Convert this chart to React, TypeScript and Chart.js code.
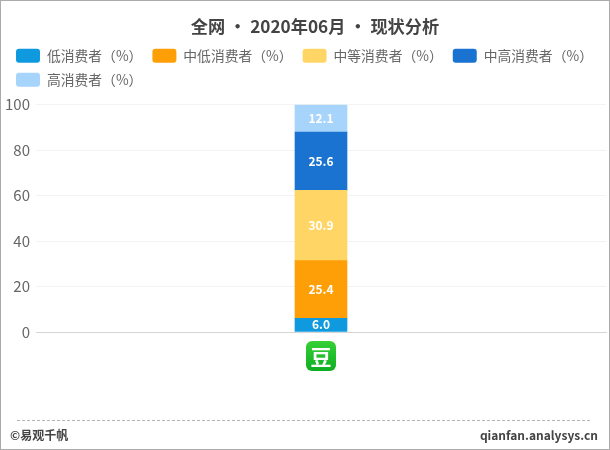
import React, { useEffect, useRef } from "react";
import { Chart, registerables } from "chart.js";

Chart.register(...registerables);

const titleText = "全网 • 2020年06月 • 现状分析";
const categories = ["豆瓣"];
const seriesNames = ["低消费者（%）", "中低消费者（%）", "中等消费者（%）", "中高消费者（%）", "高消费者（%）"];
const lowValues = [6.0];
const midLowValues = [25.4];
const midValues = [30.9];
const midHighValues = [25.6];
const highValues = [12.1];
const seriesColors = ["#0f9ae0", "#ff9f08", "#ffd666", "#1a73d1", "#a6d4fa"];
const iconGlyph = "豆";
const footerLeft = "©易观千帆";
const footerRight = "qianfan.analysys.cn";

const FONT = '"Noto Sans CJK SC", "Noto Sans", sans-serif';

const overlay = {
  id: "overlay",
  beforeLayout(chart: any) {
    const legend = chart.legend;
    if (legend && !legend.__wrapped) {
      const fit = legend.fit;
      legend.fit = function (this: any) {
        fit.call(this);
        this.height += 8;
      };
      legend.__wrapped = true;
    }
  },
  afterLayout(chart: any) {
    chart.titleBlock.left += 18;
  },
  beforeDraw(chart: any) {
    const { ctx, width, height } = chart;
    ctx.save();
    ctx.fillStyle = "#ffffff";
    ctx.fillRect(0, 0, width, height);
    ctx.strokeStyle = "#ababab";
    ctx.lineWidth = 2;
    ctx.strokeRect(0, 0, width, height);
    ctx.restore();
  },
  afterDatasetsDraw(chart: any) {
    const { ctx } = chart;
    ctx.save();
    ctx.textAlign = "center";
    ctx.textBaseline = "middle";
    ctx.fillStyle = "#ffffff";
    chart.data.datasets.forEach((ds: any, i: number) => {
      const bar = chart.getDatasetMeta(i).data[0];
      const center = bar.getCenterPoint();
      ctx.font = `bold 12px ${FONT}`;
      ctx.fillText(Number(ds.data[0]).toFixed(1), center.x, center.y);
    });
    const x = chart.scales.x.getPixelForValue(0);
    const size = 30;
    const top = 341;
    ctx.beginPath();
    ctx.roundRect(x - size / 2, top, size, size, 6);
    const gradient = ctx.createLinearGradient(0, top, 0, top + size);
    gradient.addColorStop(0, "#36d036");
    gradient.addColorStop(1, "#0fae22");
    ctx.fillStyle = gradient;
    ctx.fill();
    ctx.fillStyle = "#ffffff";
    ctx.font = `bold 21px ${FONT}`;
    ctx.fillText(iconGlyph, x, top + size / 2 + 1);

    ctx.strokeStyle = "#b5b5b5";
    ctx.lineWidth = 1;
    ctx.setLineDash([3, 2]);
    ctx.beginPath();
    ctx.moveTo(17, 420.5);
    ctx.lineTo(590, 420.5);
    ctx.stroke();
    ctx.setLineDash([]);
    ctx.fillStyle = "#444444";
    ctx.textAlign = "left";
    ctx.font = `bold 12px ${FONT}`;
    ctx.fillText(footerLeft, 10, 435);
    ctx.textAlign = "right";
    ctx.font = `bold 12px ${FONT}`;
    ctx.fillText(footerRight, 598, 435);
    ctx.restore();
  },
};

export default function App() {
  const ref = useRef<HTMLCanvasElement>(null);
  useEffect(() => {
    const values = [lowValues, midLowValues, midValues, midHighValues, highValues];
    const chart = new Chart(ref.current!, {
      type: "bar",
      data: {
        labels: categories,
        datasets: seriesNames.map((label, i) => ({
          label,
          data: values[i],
          backgroundColor: seriesColors[i],
          barThickness: 52,
          stack: "s",
        })),
      },
      options: {
        responsive: false,
        animation: false,
        devicePixelRatio: 1,
        layout: { padding: { left: 6, right: 4, bottom: 118, top: 0 } },
        plugins: {
          title: {
            display: true,
            text: titleText,
            color: "#444444",
            font: { size: 17.2, weight: "bold", family: FONT },
            padding: { top: 16, bottom: 2 },
          },
          legend: {
            display: true,
            align: "start",
            labels: {
              boxWidth: 24,
              boxHeight: 14,
              color: "#666666",
              padding: 10,
              font: { size: 13.8, family: FONT },
              useBorderRadius: true,
              borderRadius: 3,
            },
          },
          tooltip: { enabled: false },
        },
        scales: {
          x: {
            stacked: true,
            ticks: { display: false },
            grid: { display: false, drawTicks: false },
            border: { color: "#d5d5d5" },
          },
          y: {
            stacked: true,
            min: 0,
            max: 100,
            ticks: {
              stepSize: 20,
              color: "#666666",
              padding: 6,
              font: { size: 15, family: FONT },
            },
            grid: { color: "#f3f3f3", drawTicks: false },
            border: { display: false },
            afterFit(scale: any) {
              scale.width = 30;
            },
          },
        },
      },
      plugins: [overlay],
    } as any);
    return () => chart.destroy();
  }, []);
  return (
    <div style={{ position: "fixed", left: 0, top: 0, width: 610, height: 450 }}>
      <canvas ref={ref} width={610} height={450} style={{ display: "block" }} />
    </div>
  );
}
